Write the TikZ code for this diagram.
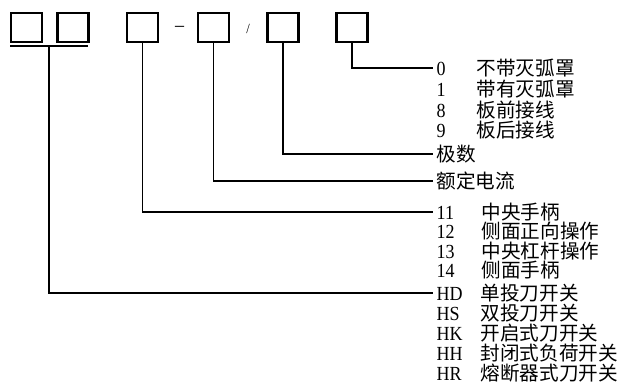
\documentclass[tikz,border=0pt]{standalone}
\usepackage{fontspec}
\setmainfont{Liberation Serif}[FakeStretch=0.9]
\newfontfamily\cjk{Noto Sans CJK SC}
\newcommand\rowlbl[3]{\makebox[#1][l]{#2}{\cjk\fontsize{19.6}{19.6}\selectfont #3}}
\begin{document}
\begin{tikzpicture}[x=1pt,y=-1pt,
  box/.style={draw, line width=2.2pt, minimum width=31pt, minimum height=29pt, inner sep=0pt},
  wire/.style={line width=1.8pt},
  lbl/.style={anchor=west, inner xsep=3.5pt, inner ysep=0pt, text height=14pt, text depth=0pt, font=\fontsize{20}{20}\selectfont}]
\useasboundingbox (0,0) rectangle (622,384);
% boxes
\node[box] (b1) at (26.5,27.5) {};
\node[box] (b2) at (73,27.5) {};
\node[box] (b3) at (142.5,27.5) {};
\node[box] (b4) at (213.5,27.5) {};
\node[box] (b5) at (283,27.5) {};
\node[box] (b6) at (352,27.5) {};
\node[font=\fontsize{20}{20}\selectfont, inner sep=0pt] (dash) at (179.5,29) {–};
\node[font=\fontsize{14}{14}\selectfont, inner sep=0pt] (slash) at (248,28.5) {/};
% labels
\node[lbl] (l0) at (433,68) {\rowlbl{40pt}{0}{不带灭弧罩}};
\node[lbl] (l1) at (433,89) {\rowlbl{40pt}{1}{带有灭弧罩}};
\node[lbl] (l8) at (433,110) {\rowlbl{40pt}{8}{板前接线}};
\node[lbl] (l9) at (433,130) {\rowlbl{40pt}{9}{板后接线}};
\node[lbl] (lp) at (433,154) {\rowlbl{0pt}{}{极数}};
\node[lbl] (lc) at (433,181) {\rowlbl{0pt}{}{额定电流}};
\node[lbl] (l11) at (433,212) {\rowlbl{45pt}{11}{中央手柄}};
\node[lbl] (l12) at (433,231) {\rowlbl{45pt}{12}{侧面正向操作}};
\node[lbl] (l13) at (433,251) {\rowlbl{45pt}{13}{中央杠杆操作}};
\node[lbl] (l14) at (433,270) {\rowlbl{45pt}{14}{侧面手柄}};
\node[lbl] (lhd) at (433,293) {\rowlbl{44pt}{HD}{单投刀开关}};
\node[lbl] (lhs) at (433,313) {\rowlbl{44pt}{HS}{双投刀开关}};
\node[lbl] (lhk) at (433,333) {\rowlbl{44pt}{HK}{开启式刀开关}};
\node[lbl] (lhh) at (433,353) {\rowlbl{44pt}{HH}{封闭式负荷开关}};
\node[lbl] (lhr) at (433,373) {\rowlbl{44pt}{HR}{熔断器式刀开关}};
% connectors
\draw[wire] (b6.south) |- (l0.west);
\draw[wire] (b5.south) |- (lp.west);
\draw[wire] (b4.south) |- (lc.west);
\draw[wire] (b3.south) |- (l11.west);
\coordinate (ul) at (10,46);
\coordinate (ur) at (88,46);
\coordinate (um) at (49,46);
\draw[wire] (ul) -- (ur);
\draw[wire] (um) |- (lhd.west);
\end{tikzpicture}
\end{document}
